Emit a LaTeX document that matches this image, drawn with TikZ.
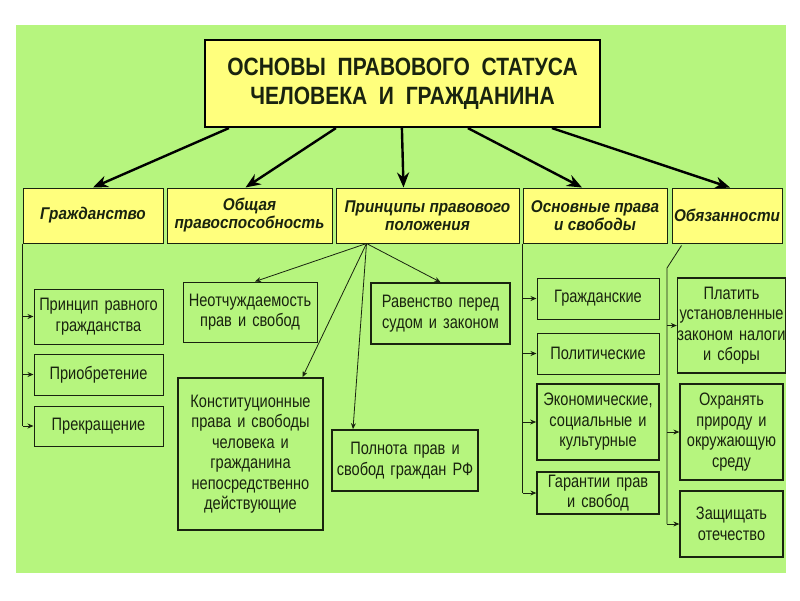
\documentclass[tikz,border=0pt]{standalone}
\usepackage{fontspec}
\setmainfont{Liberation Sans}
\newfontfamily\titlefont{Liberation Sans}[FakeStretch=0.84,WordSpace=2]
\newfontfamily\headfont{Liberation Sans}[FakeStretch=0.9]
\newfontfamily\boxfont{Liberation Sans}[FakeStretch=0.81,WordSpace=1.5]
\usetikzlibrary{arrows.meta}

\definecolor{fondoverde}{RGB}{182,245,126}
\definecolor{amarillo}{RGB}{255,255,125}
\definecolor{borde}{RGB}{25,35,15}

\tikzset{
  titulo/.style={draw=black, line width=2.2pt, fill=amarillo, minimum width=395pt, minimum height=87pt,
    inner sep=0pt, align=center, text=borde, font=\titlefont\bfseries\fontsize{25}{29}\selectfont},
  cabecera/.style={draw=borde, line width=1pt, fill=amarillo, minimum height=55pt, inner sep=0pt,
    align=center, text=borde, font=\headfont\bfseries\itshape\fontsize{17}{18}\selectfont},
  caja/.style={draw=borde, line width=1pt, fill=fondoverde, inner sep=0pt, align=center, text=borde,
    font=\boxfont\fontsize{18}{20.5}\selectfont},
  cajagruesa/.style={caja, line width=1.7pt},
  flechagrande/.style={-{Stealth[length=15pt,width=12pt]}, line width=2.4pt, black},
  flecha/.style={-{Stealth[length=6pt,width=5pt]}, line width=0.8pt, borde},
}

\begin{document}
\begin{tikzpicture}[x=1pt, y=-1pt]
        % Fondo
        \useasboundingbox (0,0) rectangle (800,600);
        \fill[white] (0,0) rectangle (800,600);
        \fill[fondoverde] (16,25) rectangle (786,573);
        % Titulo
        \node[titulo] (titulo) at (402.5,83.5) {ОСНОВЫ ПРАВОВОГО СТАТУСА\\ЧЕЛОВЕКА И ГРАЖДАНИНА};
        % Segunda fila
        \node[cabecera, minimum width=140pt] (grazh) at (93,215.5) {Гражданство};
        \node[cabecera, minimum width=165pt] (obsh) at (249.5,215.5) {Общая\\правоспособность};
        \node[cabecera, minimum width=183pt] (princ) at (427.5,215.5) {Принципы правового\\положения};
        \node[cabecera, minimum width=144pt] (osn) at (595,215.5) {Основные права\\и свободы};
        \node[cabecera, minimum width=110pt] (obyaz) at (727,215.5) {Обязанности};
        % Flechas del titulo
        \draw[flechagrande] ([xshift=25pt]titulo.south west) -- (grazh.north);
        \draw[flechagrande] ([xshift=132pt]titulo.south west) -- ([xshift=-4pt]obsh.north);
        \draw[flechagrande] ([xshift=198pt]titulo.south west) -- ([xshift=-24pt]princ.north);
        \draw[flechagrande] ([xshift=264pt]titulo.south west) -- ([xshift=-13pt]osn.north);
        \draw[flechagrande] ([xshift=348pt]titulo.south west) -- ([xshift=3pt]obyaz.north);
        % Гражданство
        \node[caja, minimum width=129pt, minimum height=55pt] (prin) at (98.5,316.5) {Принцип равного\\гражданства};
        \node[caja, minimum width=129pt, minimum height=41pt] (priob) at (98.5,374.5) {Приобретение};
        \node[caja, minimum width=129pt, minimum height=40pt] (prek) at (98.5,426) {Прекращение};
        \draw[borde, line width=0.8pt] (grazh.south west) -- (grazh.south west |- prek.west);
        \foreach \n in {prin, priob, prek}
          \draw[flecha] (grazh.south west |- \n.west) -- (\n.west);
        % Принципы правового положения
        \node[caja, minimum width=134pt, minimum height=60pt] (neotch) at (250,312) {Неотчуждаемость\\прав и свобод};
        \node[cajagruesa, minimum width=139pt, minimum height=61pt] (raven) at (440.5,313.5) {Равенство перед\\судом и законом};
        \node[cajagruesa, minimum width=145pt, minimum height=152pt] (konst) at (250.5,454)
          {Конституционные\\права и свободы\\человека и\\гражданина\\непосредственно\\действующие};
        \node[cajagruesa, minimum width=146pt, minimum height=61pt] (poln) at (405,460.5) {Полнота прав и\\свобод граждан РФ};
        \coordinate (psrc) at ([xshift=31pt]princ.south west);
        \draw[flecha] (psrc) -- ([xshift=5pt]neotch.north);
        \draw[flecha] (psrc) -- (raven.north);
        \draw[flecha] (psrc) -- ([xshift=52pt]konst.north);
        \draw[flecha] (psrc) -- ([xshift=-52pt]poln.north);
        % Основные права и свободы
        \node[caja, minimum width=122pt, minimum height=41pt] (grazhd) at (598,298.5) {Гражданские};
        \node[caja, minimum width=122pt, minimum height=41pt] (polit) at (598,353.5) {Политические};
        \node[cajagruesa, minimum width=122pt, minimum height=76pt] (ekon) at (598,422) {Экономические,\\социальные и\\культурные};
        \node[caja, line width=1.3pt, minimum width=122pt, minimum height=42pt] (garant) at (598,493) {Гарантии прав\\и свобод};
        \draw[borde, line width=0.8pt] (osn.south west) -- (osn.south west |- garant.west);
        \foreach \n in {grazhd, polit, ekon, garant}
          \draw[flecha] (osn.south west |- \n.west) -- (\n.west);
        % Обязанности
        \node[caja, line width=1.3pt, minimum width=103pt, minimum height=95pt] (plat) at (731.5,325.5)
          {Платить\\установленные\\законом налоги\\и сборы};
        \node[caja, line width=1.3pt, minimum width=103pt, minimum height=96pt] (ohran) at (731.5,432)
          {Охранять\\природу и\\окружающую\\среду};
        \node[caja, line width=1.3pt, minimum width=103pt, minimum height=66pt] (zashch) at (731.5,524) {Защищать\\отечество};
        \coordinate (obtop) at ([xshift=10pt,yshift=-2pt]obyaz.south west);
        \coordinate (obtrunk) at (667,268);
        \draw[borde, line width=0.8pt] (obtop) -- (obtrunk) -- (obtrunk |- zashch.west);
        \foreach \n in {plat, ohran, zashch}
          \draw[flecha] (obtrunk |- \n.west) -- (\n.west);
\end{tikzpicture}
\end{document}
